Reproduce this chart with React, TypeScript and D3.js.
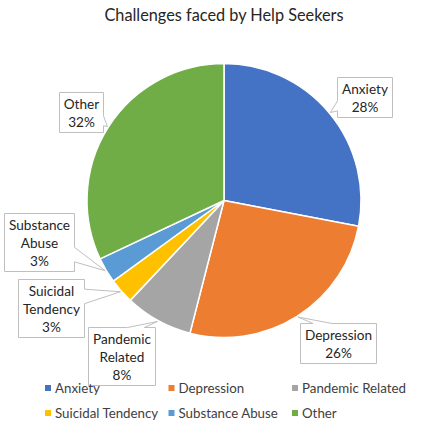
import React from "react";
import * as d3 from "d3";

const categories = ["Anxiety", "Depression", "Pandemic Related", "Suicidal Tendency", "Substance Abuse", "Other"];
const values = [28, 26, 8, 3, 3, 32];
const colors = ["#4472C4", "#ED7D31", "#A5A5A5", "#FFC000", "#5B9BD5", "#70AD47"];
const labelLines = [["Anxiety"], ["Depression"], ["Pandemic", "Related"], ["Suicidal", "Tendency"], ["Substance", "Abuse"], ["Other"]];
const title = "Challenges faced by Help Seekers";

// layout
const W = 425, H = 427;
const cx = 224, cy = 200.5, R = 137;
const FONT = "Lato, 'Open Sans', sans-serif";
const LABEL_SIZE = 13.6;
const LEGEND_SIZE = 13.3;
const boxCenterOffsets: [number, number][] = [
  [140, -104], [113.5, 142.5], [-103, 155.5], [-173, 107], [-185, 41], [-143.5, -88.5],
];

let measureCtx: CanvasRenderingContext2D | null = null;
function measure(text: string, size: number) {
  if (!measureCtx) measureCtx = document.createElement("canvas").getContext("2d");
  if (!measureCtx) return text.length * size * 0.5;
  measureCtx.font = `${size}px ${FONT}`;
  return measureCtx.measureText(text).width;
}

function calloutPath(x: number, y: number, w: number, h: number, px: number, py: number) {
  const hc = x + w / 2, vc = y + h / 2;
  const dx = px - hc, dy = py - vc;
  const dq = (dx * h) / w;
  const x1 = x + (w * (dx > 0 ? 7 : 2)) / 12;
  const x2 = x + (w * (dx > 0 ? 10 : 5)) / 12;
  const y1 = y + (h * (dy > 0 ? 7 : 2)) / 12;
  const y2 = y + (h * (dy > 0 ? 10 : 5)) / 12;
  const p = d3.path();
  const verticalSide = Math.abs(dy) > Math.abs(dq);
  p.moveTo(x, y);
  if (verticalSide && dy < 0) { p.lineTo(x1, y); p.lineTo(px, py); p.lineTo(x2, y); }
  p.lineTo(x + w, y);
  if (!verticalSide && dx > 0) { p.lineTo(x + w, y1); p.lineTo(px, py); p.lineTo(x + w, y2); }
  p.lineTo(x + w, y + h);
  if (verticalSide && dy > 0) { p.lineTo(x2, y + h); p.lineTo(px, py); p.lineTo(x1, y + h); }
  p.lineTo(x, y + h);
  if (!verticalSide && dx < 0) { p.lineTo(x, y2); p.lineTo(px, py); p.lineTo(x, y1); }
  p.closePath();
  return p.toString();
}

export default function App() {
  const pie = d3.pie<number>().sort(null).value((d) => d);
  const arcs = pie(values);
  const arcGen = d3.arc<d3.PieArcDatum<number>>().innerRadius(0).outerRadius(R);
  const total = d3.sum(values);
  const fmt = d3.format(".0%");

  const legendCols = [45, 168.5, 292];
  const legendRows = [388, 413];

  return (
    <svg width={W} height={H} style={{ position: "absolute", left: 0, top: 0, background: "#fff" }} fontFamily={FONT}>
      <text x={cx} y={21} textAnchor="middle" fontSize={16.3} fill="#262626">{title}</text>
      <g transform={`translate(${cx},${cy})`}>
        {arcs.map((a, i) => (
          <path key={i} d={arcGen(a) || ""} fill={colors[i]} stroke="#fff" strokeWidth={1.5} strokeLinejoin="round" />
        ))}
      </g>
      {arcs.map((a, i) => {
        const mid = (a.startAngle + a.endAngle) / 2;
        const tipR = R + 1;
        const px = cx + tipR * Math.sin(mid);
        const py = cy - tipR * Math.cos(mid);
        const lines = [...labelLines[i], fmt(values[i] / total)];
        const tw = d3.max(lines, (l) => measure(l, LABEL_SIZE)) || 0;
        const bw = Math.round(tw + 9);
        const bh = lines.length * 18 + 4;
        const bx = Math.round(cx + boxCenterOffsets[i][0] - bw / 2) + 0.5;
        const by = Math.round(cy + boxCenterOffsets[i][1] - bh / 2) + 0.5;
        return (
          <g key={i}>
            <path d={calloutPath(bx, by, bw, bh, px, py)} fill="#fff" stroke="#BFBFBF" strokeWidth={1} />
            {lines.map((l, j) => (
              <text key={j} x={bx + bw / 2} y={by + 11.5 + j * 18} textAnchor="middle" dominantBaseline="central" fontSize={LABEL_SIZE} fill="#262626">{l}</text>
            ))}
          </g>
        );
      })}
      {categories.map((c, i) => {
        const col = i % 3, row = Math.floor(i / 3);
        const x = legendCols[col], y = legendRows[row];
        return (
          <g key={c}>
            <rect x={x} y={y - 3} width={6} height={6} fill={colors[i]} />
            <text x={x + 10} y={y} dominantBaseline="central" fontSize={LEGEND_SIZE} fill="#404040">{c}</text>
          </g>
        );
      })}
    </svg>
  );
}
